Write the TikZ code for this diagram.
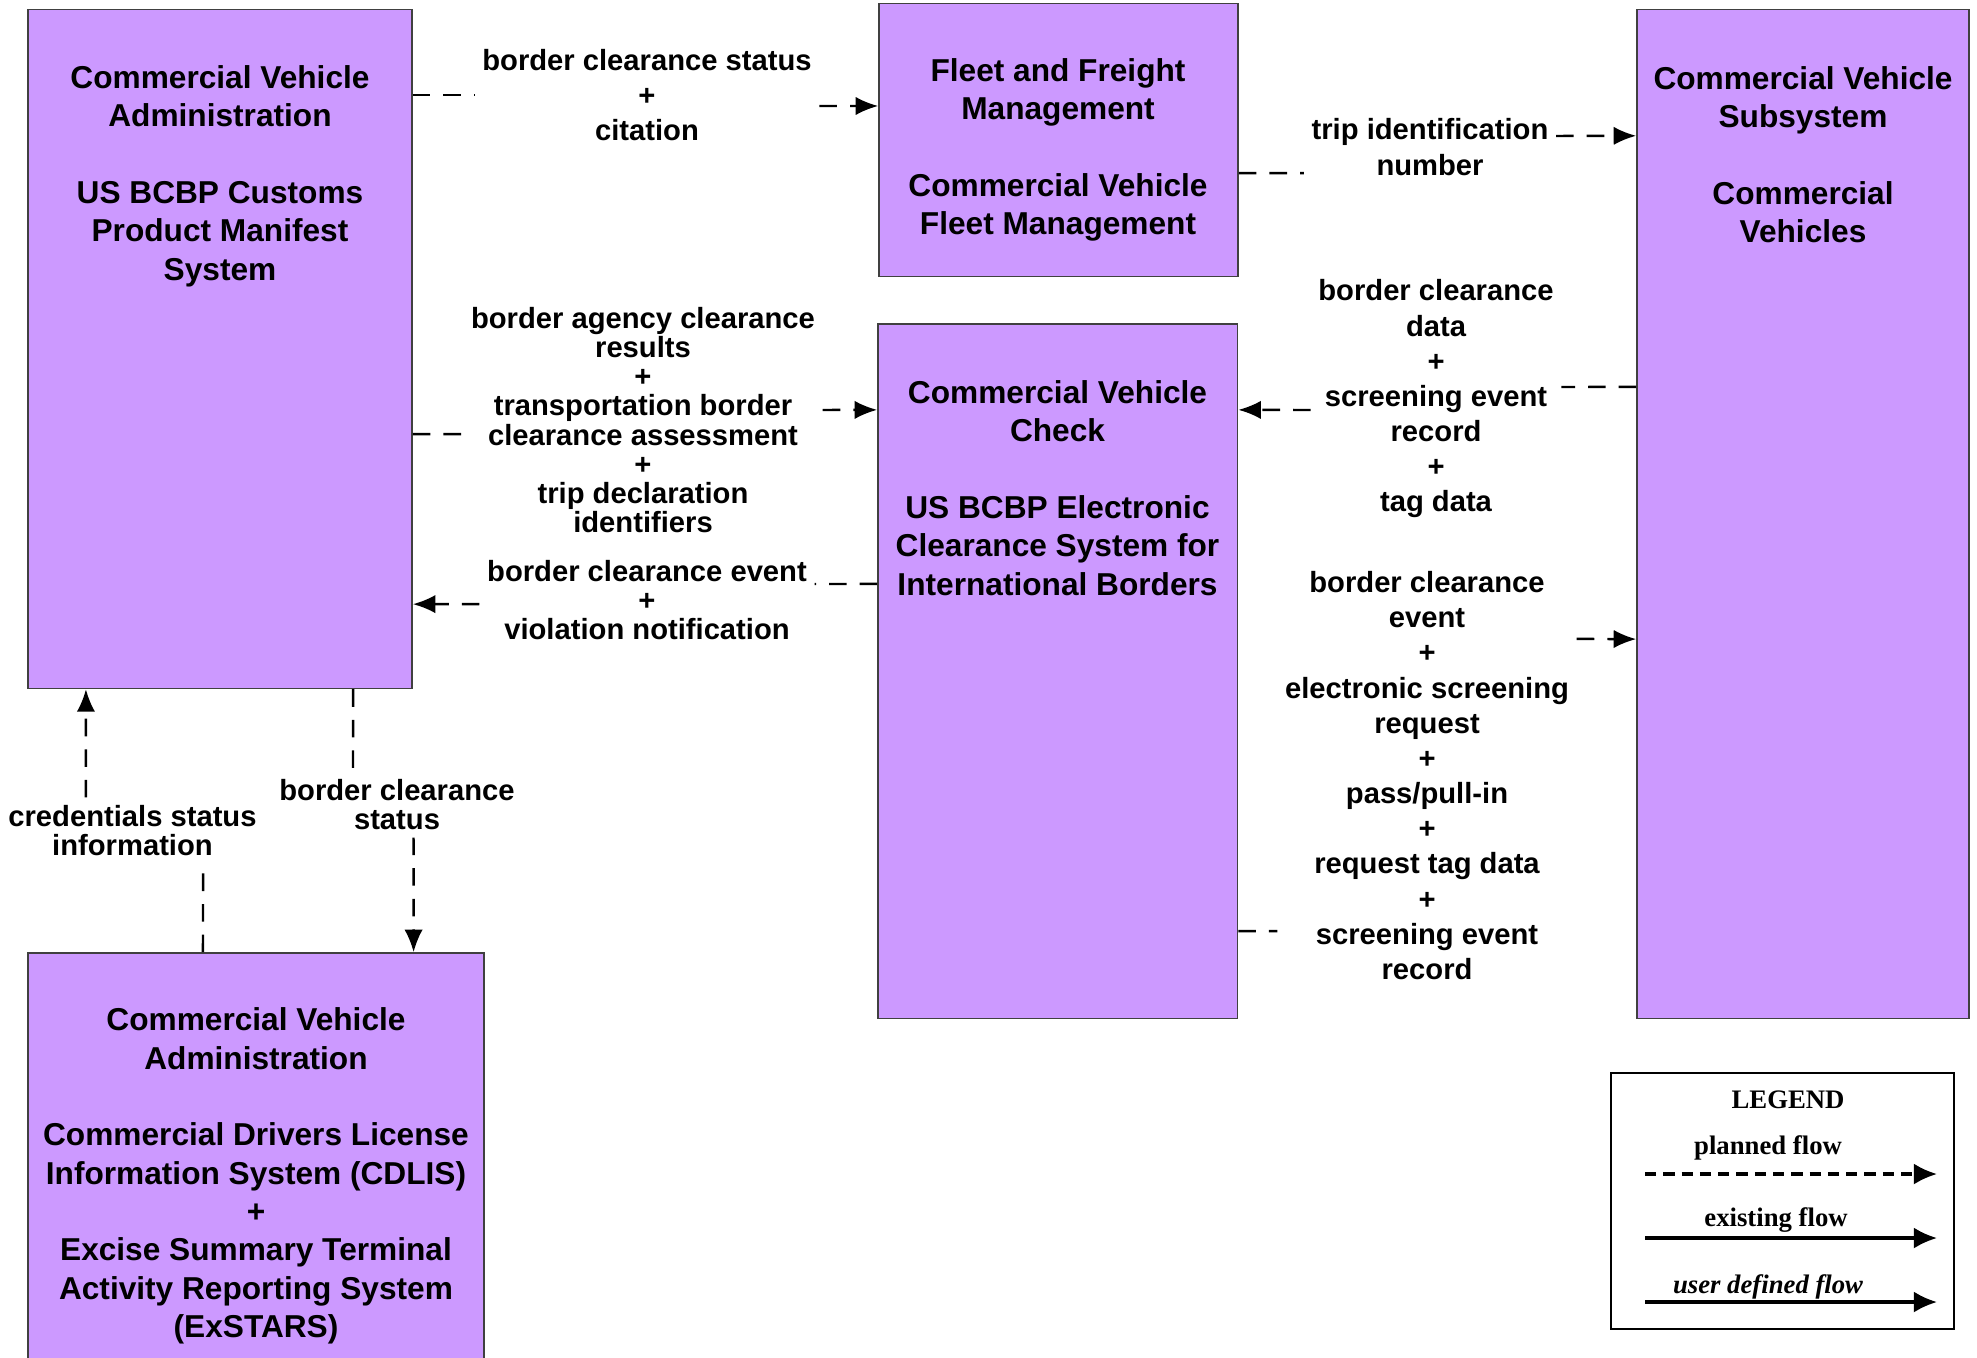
\documentclass[tikz,border=0pt]{standalone}
\usepackage{fontspec}
\setmainfont{Liberation Sans}
\newfontfamily\legendfont{Liberation Serif}
\usepackage{tikz}
\usetikzlibrary{arrows.meta}
\definecolor{sysfill}{RGB}{204,153,255}
\tikzstyle{sys}=[rectangle, draw=black!75, fill=sysfill, line width=0.4pt]
\tikzstyle{systxt}=[font=\fontsize{9}{10.9}\selectfont\bfseries, align=center, inner sep=0pt]
\tikzstyle{flowlbl}=[font=\fontsize{8.3}{10}\selectfont\bfseries, align=center, inner sep=2pt]
\tikzstyle{flowtight}=[flowlbl, font=\fontsize{8.3}{8.3}\selectfont\bfseries]
\tikzstyle{flow}=[line width=0.7pt, dash pattern=on 5pt off 3.7pt]
\tikzstyle{flowto}=[flow, -{Latex[length=6.4pt,width=5.2pt]}]
\tikzstyle{legtxt}=[font=\fontsize{7.6}{8}\selectfont\legendfont\bfseries, inner sep=0pt]
\tikzstyle{legarrow}=[line width=0.9pt, -{Latex[length=6.6pt,width=6pt]}]

\begin{document}
\begin{tikzpicture}[x=0.01cm, y=-0.01cm]
	\useasboundingbox (0,0) rectangle (1977,1357);

	%The systems
	\node[sys, minimum width=3.84cm, minimum height=6.785cm] (cva) at (220,349) {};
	\node[sys, minimum width=3.59cm, minimum height=2.725cm] (fleet) at (1058.5,140) {};
	\node[sys, minimum width=3.32cm, minimum height=10.08cm] (cvs) at (1803,514) {};
	\node[sys, minimum width=3.595cm, minimum height=6.94cm] (cvc) at (1057.75,671) {};
	\node[sys, minimum width=4.56cm, minimum height=4.17cm] (cdlis) at (256,1161.5) {};

	%The system names
	\node[systxt] (cvaT) at (220,176) {Commercial Vehicle\\Administration\\[10.9pt]US BCBP Customs\\Product Manifest\\System};
	\node[systxt] (fleetT) at (1058,150) {Fleet and Freight\\Management\\[10.9pt]Commercial Vehicle\\Fleet Management};
	\node[systxt] (cvsT) at (1803,155) {Commercial Vehicle\\Subsystem\\[10.9pt]Commercial\\Vehicles};
	\node[systxt] (cvcT) at (1057.5,488) {Commercial Vehicle\\Check\\[10.9pt]US BCBP Electronic\\Clearance System for\\International Borders};
	\node[systxt] (cdlisT) at (256,1176) {Commercial Vehicle\\Administration\\[10.9pt]Commercial Drivers License\\Information System (CDLIS)\\+\\Excise Summary Terminal\\Activity Reporting System\\(ExSTARS)};

	%The flow labels
	\node[flowlbl] (lblA) at (647,95) {border clearance status\\+\\citation};
	\node[flowlbl] (lblB) at (1430,147) {trip identification\\number};
	\node[flowtight] (lblC) at (643,420) {border agency clearance\\results\\+\\transportation border\\clearance assessment\\+\\trip declaration\\identifiers};
	\node[flowtight] (lblD) at (647,600) {border clearance event\\+\\violation notification};
	\node[flowlbl] (lblE) at (1436,399) {border clearance\\data\\+\\screening event\\record\\+\\tag data};
	\node[flowlbl] (lblF) at (1427,775.5) {border clearance\\event\\+\\electronic screening\\request\\+\\pass/pull-in\\+\\request tag data\\+\\screening event\\record};
	\node[flowtight] (lblG) at (132.5,830.5) {credentials status\\information};
	\node[flowtight] (lblH) at (397,804.5) {border clearance\\status};

	%The flows
	\draw[flow] (cva.east |- lblA.west) -- (lblA.west);
	\draw[flowto] ([yshift=-0.11cm]lblA.east) -- ([yshift=0.34cm]fleet.west);

	\draw[flow] ([yshift=-0.33cm]fleet.east) -- ([yshift=-0.26cm]lblB.west);
	\draw[flowto] ([yshift=0.11cm]lblB.east) -- ([yshift=3.78cm]cvs.west);

	\draw[flow] ([yshift=-0.85cm]cva.east) -- ([yshift=-0.14cm]lblC.west);
	\draw[flowto] ([yshift=0.10cm]lblC.east) -- ([yshift=2.61cm]cvc.west);

	\draw[flow] ([yshift=0.87cm]cvc.west) -- ([yshift=0.16cm]lblD.east);
	\draw[flowto] ([yshift=-0.04cm]lblD.west) -- ([yshift=-2.55cm]cva.east);

	\draw[flow] ([yshift=1.27cm]cvs.west) -- ([yshift=0.12cm]lblE.east);
	\draw[flowto] ([yshift=-0.11cm]lblE.west) -- ([yshift=2.61cm]cvc.east);

	\draw[flow] ([yshift=-2.6cm]cvc.east) -- ([yshift=-1.555cm]lblF.west);
	\draw[flowto] ([yshift=1.365cm]lblF.east) -- ([yshift=-1.25cm]cvs.west);

	\draw[flow] ([xshift=-0.53cm]cdlis.north) -- ([xshift=0.705cm]lblG.south);
	\draw[flowto] ([xshift=-0.465cm]lblG.north) -- ([xshift=-1.34cm]cva.south);

	\draw[flow] ([xshift=1.33cm]cva.south) -- ([xshift=-0.44cm]lblH.north);
	\draw[flowto] ([xshift=0.165cm]lblH.south) -- ([xshift=1.575cm]cdlis.north);

	%The legend
	\node[rectangle, draw, line width=0.7pt, minimum width=3.43cm, minimum height=2.56cm] (legend) at (1782.5,1201) {};
	\node[legtxt] (legT) at (1788,1100) {LEGEND};
	\node[legtxt] (legP) at (1768,1148) {planned flow};
	\node[legtxt] (legE) at (1776,1220) {existing flow};
	\node[legtxt, font=\fontsize{7.6}{8}\selectfont\legendfont\bfseries\itshape] (legU) at (1768,1287) {user defined flow};
	\coordinate (p0) at (1645,1174);
	\coordinate (p1) at (1937,1174);
	\coordinate (e0) at (1645,1238);
	\coordinate (e1) at (1937,1238);
	\coordinate (u0) at (1645,1302);
	\coordinate (u1) at (1937,1302);
	\draw[legarrow, dash pattern=on 3.2pt off 2pt] (p0) -- (p1);
	\draw[legarrow] (e0) -- (e1);
	\draw[legarrow] (u0) -- (u1);
\end{tikzpicture}
\end{document}
